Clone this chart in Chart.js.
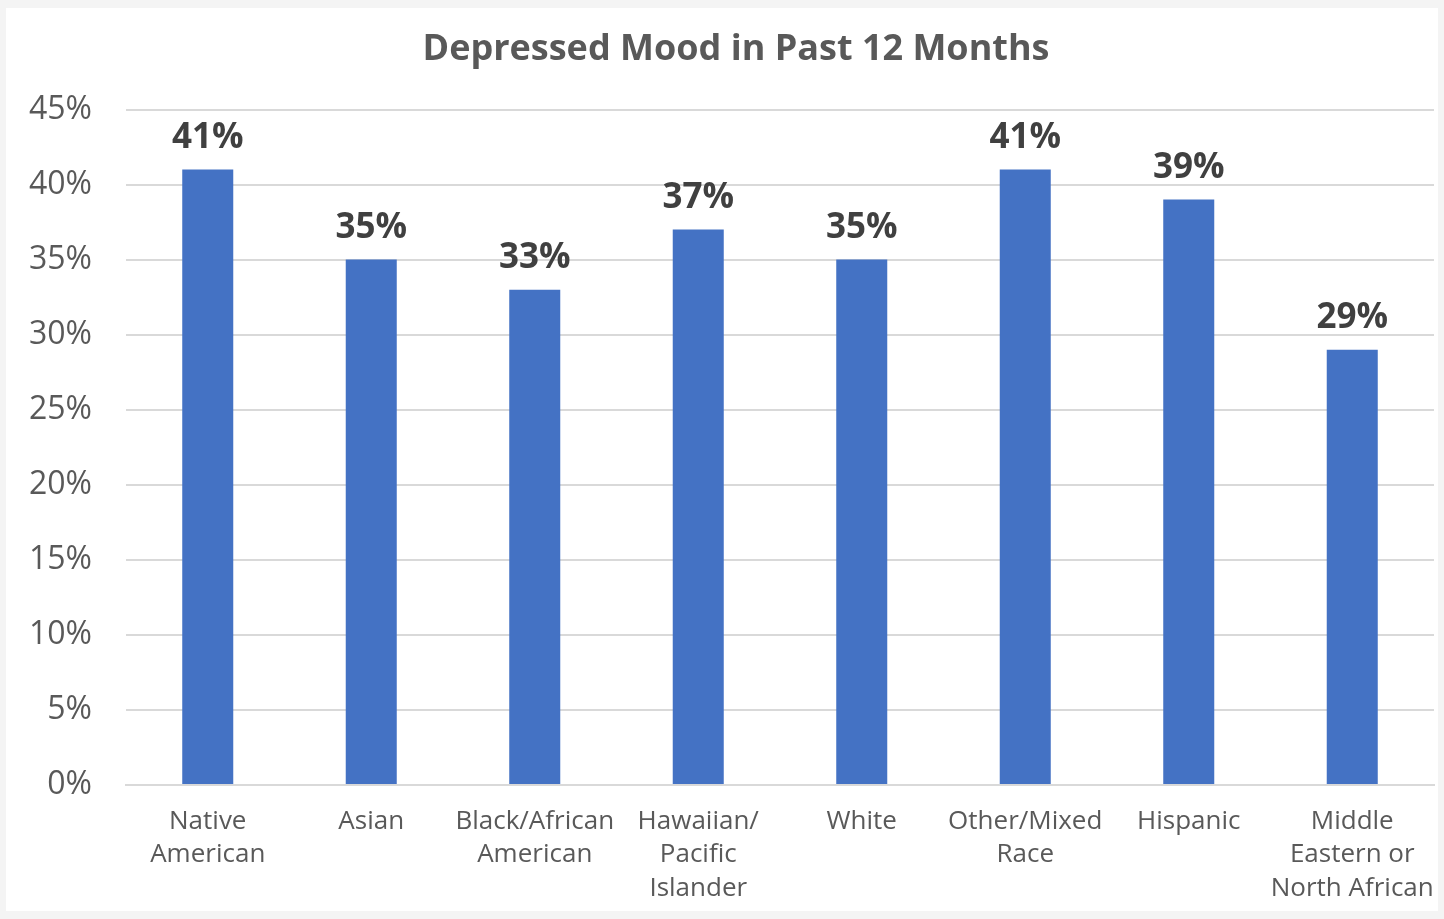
<!DOCTYPE html>
<html>
<head>
<meta charset="utf-8">
<script src="https://cdn.jsdelivr.net/npm/chart.js@4"></script>
<style>
  html, body { margin: 0; padding: 0; background: #f4f4f4; }
  #wrap { position: absolute; left: 6px; top: 8px; width: 1432px; height: 903px; background: #ffffff; }
  canvas { display: block; }
</style>
</head>
<body>
<div id="wrap"><canvas id="c" width="1432" height="903"></canvas></div>
<script>
const titleText = "Depressed Mood in Past 12 Months";
const categories = [
  ["Native", "American"],
  ["Asian"],
  ["Black/African", "American"],
  ["Hawaiian/", "Pacific", "Islander"],
  ["White"],
  ["Other/Mixed", "Race"],
  ["Hispanic"],
  ["Middle", "Eastern or", "North African"]
];
const values = [41, 35, 33, 37, 35, 41, 39, 29];
const yTicks = [0, 5, 10, 15, 20, 25, 30, 35, 40, 45];

const FONT = "'Open Sans', 'Noto Sans', sans-serif";

const titleDraw = {
  id: 'titleDraw',
  afterDraw(chart) {
    const ctx = chart.ctx;
    ctx.save();
    ctx.font = "bold 36px " + FONT;
    ctx.fillStyle = "#595959";
    ctx.textAlign = "center";
    ctx.textBaseline = "middle";
    ctx.fillText(titleText, 730, 42);
    ctx.restore();
  }
};

const valueLabels = {
  id: 'valueLabels',
  afterDatasetsDraw(chart) {
    const ctx = chart.ctx;
    const meta = chart.getDatasetMeta(0);
    ctx.save();
    ctx.font = "bold 35px " + FONT;
    ctx.fillStyle = "#404040";
    ctx.textAlign = "center";
    ctx.textBaseline = "alphabetic";
    meta.data.forEach((bar, i) => {
      ctx.fillText(values[i] + "%", bar.x, bar.y - 22);
    });
    ctx.restore();
  }
};

new Chart(document.getElementById('c'), {
  type: 'bar',
  data: {
    labels: categories,
    datasets: [{
      data: values,
      backgroundColor: '#4472C4',
      borderWidth: 0,
      barPercentage: 0.624,
      categoryPercentage: 0.5
    }]
  },
  options: {
    responsive: false,
    animation: false,
    devicePixelRatio: 1,
    layout: { padding: { top: 101.5, right: 4, bottom: 0, left: 0 } },
    plugins: {
      legend: { display: false },
      tooltip: { enabled: false },
      title: { display: false }
    },
    scales: {
      x: {
        grid: { display: false, drawTicks: false },
        border: { display: true, color: '#d9d9d9', width: 2 },
        ticks: {
          color: '#595959',
          font: { family: FONT, size: 26, lineHeight: 1.28 },
          padding: 20,
          maxRotation: 0,
          autoSkip: false
        },
        afterFit(scale) { scale.height = 126; scale.paddingLeft = 0; scale.paddingRight = 0; }
      },
      y: {
        min: 0,
        max: 45,
        afterBuildTicks(scale) { scale.ticks = yTicks.map(v => ({ value: v })); },
        grid: { color: '#d9d9d9', lineWidth: 2, drawTicks: false },
        border: { display: false },
        ticks: {
          color: '#595959',
          font: { family: FONT, size: 32 },
          padding: 34,
          callback: v => v + '%'
        },
        afterFit(scale) { scale.width = 120; scale.paddingTop = 0; scale.paddingBottom = 0; }
      }
    }
  },
  plugins: [valueLabels, titleDraw]
});
</script>
</body>
</html>
